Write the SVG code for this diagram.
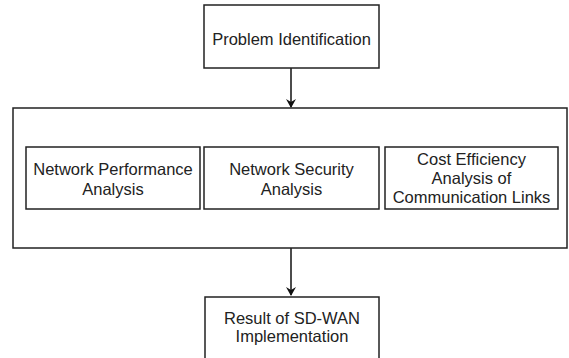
<svg xmlns="http://www.w3.org/2000/svg" width="569" height="358" viewBox="0 0 569 358">
<style>
.box{fill:#fff;stroke:#222;stroke-width:1.5}
.t{font-family:"Liberation Sans",Arial,sans-serif;font-size:16.5px;fill:#222;text-anchor:middle}
.c{stroke:#111;stroke-width:1.5;fill:none}
</style>
<defs>
<marker id="ah" markerWidth="10" markerHeight="10" refX="8" refY="5" orient="auto" markerUnits="userSpaceOnUse">
<path d="M0,0 L9,5 L0,10 L3,5 Z" fill="#111"/>
</marker>
</defs>
<rect width="569" height="358" fill="#fff"/>
<g id="connectors">
<path class="c" d="M291,68 L291,107" marker-end="url(#ah)"/>
<path class="c" d="M291,248 L291,295" marker-end="url(#ah)"/>
</g>
<g id="problem">
<rect class="box" x="204" y="5" width="175" height="63"/>
<text class="t" x="291.5" y="45">Problem Identification</text>
</g>
<g id="container">
<rect class="box" x="13" y="108" width="554" height="140"/>
</g>
<g id="perf">
<rect class="box" x="26" y="147" width="174" height="62"/>
<text class="t" x="113" y="175">Network Performance</text>
<text class="t" x="113" y="194.5">Analysis</text>
</g>
<g id="security">
<rect class="box" x="204" y="147" width="175" height="62"/>
<text class="t" x="291.5" y="175">Network Security</text>
<text class="t" x="291.5" y="194.5">Analysis</text>
</g>
<g id="cost">
<rect class="box" x="385" y="147" width="173" height="62"/>
<text class="t" x="471.5" y="165">Cost Efficiency</text>
<text class="t" x="471.5" y="184">Analysis of</text>
<text class="t" x="471.5" y="203">Communication Links</text>
</g>
<g id="result">
<rect class="box" x="205" y="297" width="174" height="70"/>
<text class="t" x="292" y="324">Result of SD-WAN</text>
<text class="t" x="292" y="342">Implementation</text>
</g>
</svg>
